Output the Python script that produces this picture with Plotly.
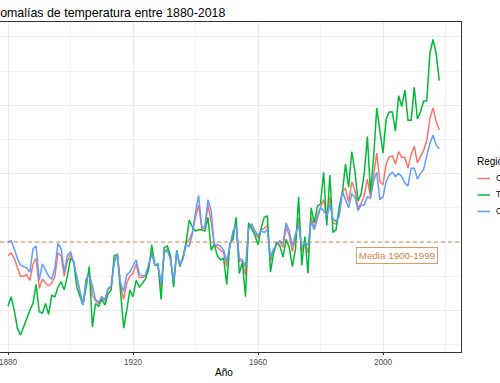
import plotly.graph_objects as go

years = list(range(1880, 2019))

global_vals = [
    -0.10, -0.08, -0.12, -0.18, -0.25, -0.25, -0.24, -0.28, -0.16, -0.12,
    -0.34, -0.27, -0.30, -0.32, -0.30, -0.25, -0.08, -0.10, -0.25, -0.14,
    -0.09, -0.15, -0.27, -0.37, -0.46, -0.28, -0.22, -0.39, -0.43, -0.45,
    -0.41, -0.43, -0.35, -0.33, -0.14, -0.09, -0.32, -0.42, -0.30, -0.25,
    -0.23, -0.16, -0.26, -0.26, -0.25, -0.18, -0.07, -0.17, -0.17, -0.33,
    -0.07, -0.05, -0.12, -0.29, -0.07, -0.17, -0.12, -0.01, 0.02, 0.07,
    0.18, 0.27, 0.10, 0.10, 0.27, 0.15, -0.02, -0.04, -0.06, -0.08,
    -0.18, -0.02, 0.05, 0.14, -0.14, -0.14, -0.24, 0.11, 0.12, 0.07,
    0.03, 0.09, 0.10, 0.12, -0.14, -0.06, -0.01, 0.00, -0.04, 0.11,
    0.05, -0.07, 0.03, 0.18, -0.07, 0.00, -0.08, 0.18, 0.10, 0.20,
    0.26, 0.31, 0.17, 0.33, 0.14, 0.13, 0.21, 0.37, 0.39, 0.29,
    0.44, 0.38, 0.25, 0.28, 0.34, 0.46, 0.33, 0.50, 0.65, 0.44,
    0.42, 0.57, 0.62, 0.63, 0.57, 0.66, 0.62, 0.62, 0.54, 0.64,
    0.70, 0.58, 0.62, 0.67, 0.74, 0.90, 0.98, 0.88, 0.82,
]

land_vals = [
    -0.47, -0.40, -0.50, -0.63, -0.68, -0.62, -0.55, -0.50, -0.45, -0.31,
    -0.51, -0.52, -0.45, -0.53, -0.39, -0.40, -0.33, -0.29, -0.35, -0.25,
    -0.12, -0.14, -0.33, -0.40, -0.46, -0.33, -0.18, -0.62, -0.45, -0.47,
    -0.42, -0.46, -0.38, -0.35, -0.10, -0.09, -0.37, -0.63, -0.50, -0.35,
    -0.40, -0.28, -0.33, -0.30, -0.27, -0.20, -0.02, -0.17, -0.16, -0.42,
    -0.04, -0.03, -0.10, -0.33, -0.06, -0.18, -0.11, 0.00, 0.16, 0.11,
    0.08, 0.09, 0.09, 0.08, 0.18, -0.06, -0.02, -0.10, -0.13, -0.12,
    -0.31, -0.01, 0.02, 0.18, -0.23, -0.15, -0.40, 0.14, 0.10, 0.05,
    -0.02, 0.10, 0.18, 0.19, -0.22, -0.08, 0.00, -0.03, -0.11, 0.02,
    -0.04, -0.18, -0.05, 0.33, -0.17, 0.04, -0.23, 0.25, 0.14, 0.26,
    0.28, 0.51, 0.12, 0.49, 0.07, 0.09, 0.26, 0.36, 0.57, 0.40,
    0.66, 0.52, 0.30, 0.35, 0.50, 0.77, 0.36, 0.62, 0.98, 0.80,
    0.65, 0.90, 0.95, 0.95, 0.81, 1.07, 0.99, 1.11, 0.89, 0.89,
    1.13, 0.90, 0.95, 1.03, 1.03, 1.38, 1.48, 1.38, 1.18,
]

ocean_vals = [
    0.00, 0.01, -0.05, -0.12, -0.17, -0.18, -0.19, -0.22, -0.05, -0.03,
    -0.28, -0.16, -0.21, -0.25, -0.27, -0.19, -0.01, -0.05, -0.22, -0.10,
    -0.07, -0.15, -0.25, -0.36, -0.46, -0.27, -0.24, -0.32, -0.42, -0.44,
    -0.40, -0.42, -0.34, -0.32, -0.15, -0.09, -0.30, -0.36, -0.24, -0.22,
    -0.18, -0.13, -0.23, -0.25, -0.24, -0.17, -0.09, -0.17, -0.17, -0.30,
    -0.08, -0.06, -0.13, -0.28, -0.07, -0.17, -0.12, -0.02, -0.03, 0.06,
    0.22, 0.34, 0.11, 0.11, 0.31, 0.23, -0.02, -0.02, -0.03, -0.06,
    -0.14, -0.03, 0.08, 0.12, -0.12, -0.13, -0.18, 0.10, 0.13, 0.08,
    0.05, 0.08, 0.07, 0.09, -0.11, -0.05, -0.02, 0.01, -0.01, 0.14,
    0.08, -0.03, 0.06, 0.12, -0.03, -0.01, -0.02, 0.15, 0.09, 0.18,
    0.25, 0.23, 0.19, 0.27, 0.17, 0.15, 0.19, 0.37, 0.31, 0.25,
    0.35, 0.33, 0.23, 0.27, 0.27, 0.33, 0.32, 0.45, 0.51, 0.31,
    0.33, 0.44, 0.49, 0.51, 0.48, 0.50, 0.48, 0.43, 0.41, 0.54,
    0.54, 0.46, 0.50, 0.53, 0.63, 0.72, 0.78, 0.71, 0.68,
]

series_names = ["Océano y Tierra", "Tierra", "Océano"]
series_colors = ["#F8766D", "#00BA38", "#619CFF"]
x_ticks = [1880, 1920, 1960, 2000]
x_tick_labels = ["1880", "1920", "1960", "2000"]

FONT = "Liberation Sans, Arial, sans-serif"
W, H = 500, 383
ML, MR, MT, MB = 0, 39, 22, 31
PW = W - ML - MR
PH = H - MT - MB


def py(px):
    """pixel row (from top of picture) -> paper y"""
    return (PH - (px - MT)) / PH


def px_(px):
    """pixel column -> paper x"""
    return (px - ML) / PW


fig = go.Figure()
for name, vals, col in zip(series_names, [global_vals, land_vals, ocean_vals], series_colors):
    fig.add_trace(go.Scatter(x=years, y=vals, mode="lines", name=name,
                             line=dict(color=col, width=1.5), showlegend=False))

# reference line (mean 1900-1999)
fig.add_shape(type="line", xref="paper", x0=0, x1=1, yref="y", y0=0, y1=0,
              line=dict(color="#CD853F", width=0.9, dash="4px,3px"), layer="above")
fig.add_annotation(x=2004.5, y=-0.1, xref="x", yref="y", text="Media 1900-1999",
                   showarrow=False, font=dict(family=FONT, size=9.8, color="#CD853F"),
                   bgcolor="white", bordercolor="#CD853F", borderwidth=0.8, borderpad=2)

# title (aligned to panel left, partly outside the picture)
fig.add_annotation(xref="paper", yref="paper", x=px_(-17.5), y=py(13),
                   text="Anomalías de temperatura entre 1880-2018", showarrow=False,
                   xanchor="left", yanchor="middle",
                   font=dict(family=FONT, size=12.4, color="black"))
# x axis title
fig.add_annotation(xref="paper", yref="paper", x=px_(223.7), y=py(372),
                   text="Año", showarrow=False, xanchor="center", yanchor="middle",
                   font=dict(family=FONT, size=10, color="black"))

# legend (drawn by hand, ggplot-like)
fig.add_annotation(xref="paper", yref="paper", x=px_(475), y=py(161.7),
                   text="Región", showarrow=False, xanchor="left", yanchor="middle",
                   font=dict(family=FONT, size=10, color="black"))
for i, (name, col) in enumerate(zip(series_names, series_colors)):
    ypx = 178.5 + i * 16.5
    fig.add_shape(type="line", xref="paper", yref="paper", x0=px_(477.5), x1=px_(490),
                  y0=py(ypx), y1=py(ypx), line=dict(color=col, width=1.5))
    fig.add_annotation(xref="paper", yref="paper", x=px_(494), y=py(ypx), text=name,
                       showarrow=False, xanchor="left", yanchor="middle",
                       font=dict(family=FONT, size=8.2, color="black"))

x0 = 1880 - 8 / 3.125
x1 = 1880 + (PW - 8) / 3.125
y_top = (242 - MT) / 136.8
y_bot = -(H - MB - 242) / 136.8

fig.update_layout(
    template="none",
    width=W, height=H,
    margin=dict(l=ML, r=MR, t=MT, b=MB, pad=0),
    paper_bgcolor="white", plot_bgcolor="white",
    showlegend=False,
    xaxis=dict(range=[x0, x1], tickvals=x_ticks, ticktext=x_tick_labels,
               showgrid=True, gridcolor="#EBEBEB", gridwidth=1,
               minor=dict(dtick=20, tick0=1880, showgrid=True, gridcolor="#F2F2F2", gridwidth=0.6),
               showline=True, linecolor="#333333", linewidth=1, mirror=True,
               ticks="outside", ticklen=2, tickcolor="#333333", tickwidth=0.8,
               ticklabeloverflow="allow",
               tickfont=dict(family=FONT, size=8.2, color="#4D4D4D"),
               zeroline=False, automargin=False),
    yaxis=dict(range=[y_bot, y_top], dtick=0.5, tick0=0,
               showgrid=True, gridcolor="#EBEBEB", gridwidth=1,
               minor=dict(dtick=0.25, tick0=0, showgrid=True, gridcolor="#F2F2F2", gridwidth=0.6),
               showline=True, linecolor="#333333", linewidth=1, mirror=True,
               showticklabels=False, zeroline=False, automargin=False),
)

fig.write_html("out.html", config={"displayModeBar": False},
               post_script="document.body.style.margin='0';document.body.style.overflow='hidden';")
